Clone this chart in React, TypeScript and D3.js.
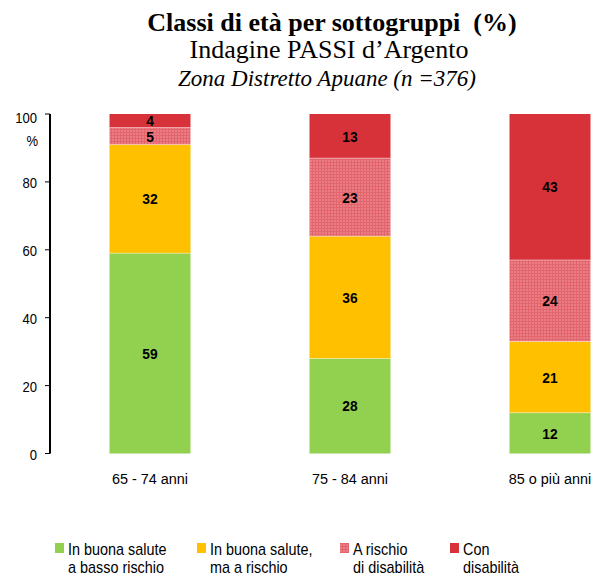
import React from "react";
import * as d3 from "d3";

const categories = ["65 - 74 anni", "75 - 84 anni", "85 o più anni"];
const seriesNames = [
  ["In buona salute", "a basso rischio"],
  ["In buona salute,", "ma a rischio"],
  ["A rischio", "di disabilità"],
  ["Con", "disabilità"],
];
const seriesKeys = ["basso", "rischio", "aRischioDis", "disabilita"];
const basso = [59, 28, 12];
const rischio = [32, 36, 21];
const aRischioDis = [5, 23, 24];
const disabilita = [4, 13, 43];
const yTicks = [0, 20, 40, 60, 80, 100];

const colors = ["#92D050", "#FFC000", "url(#pat)", "#D7323A"];
const font = "Arial, 'Liberation Sans', sans-serif";

function Txt({ x, y, sx, size, anchor, bold, children }: any) {
  return (
    <g transform={`translate(${x},${y}) scale(${sx},1)`}>
      <text x={0} y={0} textAnchor={anchor || "start"} fontFamily={font} fontWeight={bold ? "bold" : "normal"} fontSize={size}>
        {children}
      </text>
    </g>
  );
}

export default function App() {
  const W = 601, H = 577;
  const rows = categories.map((c, i) => ({
    cat: c,
    basso: basso[i],
    rischio: rischio[i],
    aRischioDis: aRischioDis[i],
    disabilita: disabilita[i],
  }));
  const stack = d3.stack<any>().keys(seriesKeys)(rows);
  const xc = d3.scalePoint().domain(categories).range([150, 550]);
  const y = d3.scaleLinear().domain([0, 100]).range([453.5, 114]);
  const bw = 81;
  const serif = "'Liberation Serif', 'Times New Roman', serif";
  const legendX = [55, 197, 340, 450];

  return (
    <svg width={W} height={H} style={{ position: "absolute", left: 0, top: 0 }}>
      <defs>
        <pattern id="pat" width="3" height="3" patternUnits="userSpaceOnUse">
          <rect width="3" height="3" fill="#EB7D84" />
          <rect width="3" height="1" fill="#E2656E" />
          <rect width="1" height="3" fill="#E2656E" />
        </pattern>
      </defs>
      <rect width={W} height={H} fill="#fff" />
      <text x={332} y={31} textAnchor="middle" fontFamily={serif} fontWeight="bold" fontSize={26} style={{ whiteSpace: "pre" }}>
        {"Classi di età per sottogruppi  (%)"}
      </text>
      <text x={329} y={58} textAnchor="middle" fontFamily={serif} fontSize={26}>
        Indagine PASSI d’Argento
      </text>
      <text x={327} y={86} textAnchor="middle" fontFamily={serif} fontStyle="italic" fontSize={23}>
        Zona Distretto Apuane (n =376)
      </text>

      {stack.map((s, si) =>
        s.map((d, i) => {
          const cx = xc(categories[i])!;
          const y0 = y(d[0]);
          const y1 = y(d[1]);
          return (
            <rect key={si + "-" + i} x={cx - bw / 2} y={y1} width={bw} height={y0 - y1} fill={colors[si]} />
          );
        })
      )}
      {stack.map((s, si) =>
        s.map((d, i) => {
          const cx = xc(categories[i])!;
          return si < 3 ? (
            <line key={"l" + si + i} x1={cx - bw / 2} x2={cx + bw / 2} y1={y(d[1])} y2={y(d[1])} stroke="#fff" strokeOpacity={0.5} strokeWidth={0.8} />
          ) : null;
        })
      )}
      {stack.map((s, si) =>
        s.map((d, i) => {
          const cx = xc(categories[i])!;
          const y0 = y(d[0]);
          const y1 = y(d[1]);
          const v = d[1] - d[0];
          return (
            <Txt key={"t" + si + "-" + i} x={cx} y={(y0 + y1) / 2 + 5.5} sx={0.92} size={15} anchor="middle" bold>
              {v}
            </Txt>
          );
        })
      )}

      <line x1={50} x2={50} y1={y(100)} y2={y(0)} stroke="#000" strokeWidth={2} />
      {yTicks.map((t) => (
        <g key={t}>
          <line x1={45} x2={50} y1={y(t)} y2={y(t)} stroke="#000" strokeWidth={1} />
          <Txt x={37} y={y(t) + (t === 100 ? 8.5 : 6)} sx={0.87} size={15} anchor="end">
            {t}
          </Txt>
        </g>
      ))}
      <Txt x={38} y={146} sx={0.87} size={15} anchor="end">%</Txt>

      {categories.map((c) => (
        <Txt key={c} x={xc(c)!} y={484} sx={0.93} size={15.5} anchor="middle">
          {c}
        </Txt>
      ))}

      {seriesNames.map((n, i) => (
        <g key={i}>
          <rect x={legendX[i]} y={543} width={9} height={10} fill={colors[i]} />
          <Txt x={legendX[i] + 13} y={555} sx={0.9} size={16}>{n[0]}</Txt>
          <Txt x={legendX[i] + 13} y={573} sx={0.9} size={16}>{n[1]}</Txt>
        </g>
      ))}
    </svg>
  );
}
